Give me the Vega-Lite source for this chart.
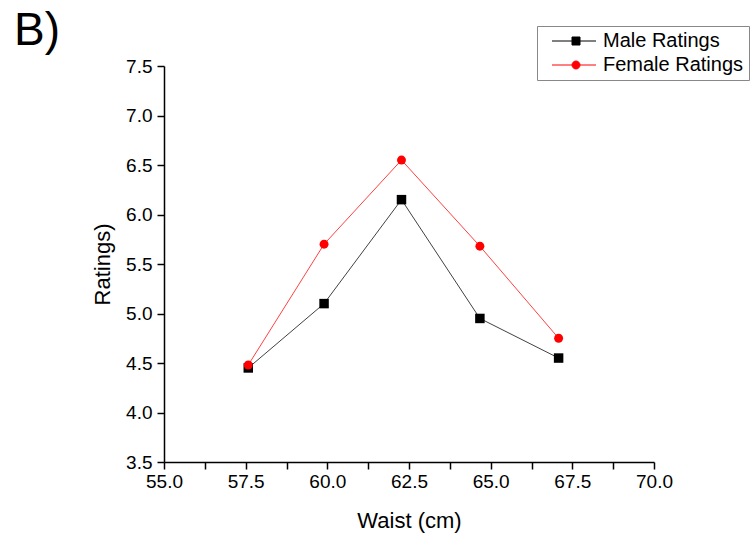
{
  "$schema": "https://vega.github.io/schema/vega-lite/v6.json",
  "width": 490,
  "height": 396,
  "autosize": {"type": "none"},
  "padding": {"left": 164, "top": 66, "right": 97, "bottom": 74},
  "background": "white",
  "title": {
    "text": "B)",
    "anchor": "start",
    "frame": "group",
    "font": "Liberation Sans",
    "fontSize": 46,
    "fontWeight": "normal",
    "color": "black",
    "dx": -150,
    "dy": 65,
    "offset": 0,
    "baseline": "alphabetic"
  },
  "config": {
    "view": {"stroke": null},
    "font": "Liberation Sans",
    "axis": {
      "domainColor": "black",
      "domainWidth": 1.5,
      "tickColor": "black",
      "tickWidth": 1.5,
      "grid": false,
      "labelFont": "Liberation Sans",
      "labelFontSize": 19,
      "labelColor": "black",
      "titleFont": "Liberation Sans",
      "titleFontSize": 22,
      "titleFontWeight": "normal",
      "titleColor": "black"
    }
  },
  "data": {
    "values": [
      {"waist": 57.58, "rating": 4.45, "series": "Male Ratings"},
      {"waist": 59.9, "rating": 5.1, "series": "Male Ratings"},
      {"waist": 62.27, "rating": 6.15, "series": "Male Ratings"},
      {"waist": 64.67, "rating": 4.95, "series": "Male Ratings"},
      {"waist": 67.08, "rating": 4.55, "series": "Male Ratings"},
      {"waist": 57.58, "rating": 4.48, "series": "Female Ratings"},
      {"waist": 59.9, "rating": 5.7, "series": "Female Ratings"},
      {"waist": 62.27, "rating": 6.55, "series": "Female Ratings"},
      {"waist": 64.67, "rating": 5.68, "series": "Female Ratings"},
      {"waist": 67.08, "rating": 4.75, "series": "Female Ratings"}
    ]
  },
  "encoding": {
    "x": {
      "field": "waist",
      "type": "quantitative",
      "scale": {"domain": [55, 70], "nice": false, "zero": false},
      "axis": {
        "title": "Waist (cm)",
        "values": [55, 56.25, 57.5, 58.75, 60, 61.25, 62.5, 63.75, 65, 66.25, 67.5, 68.75, 70],
        "labelExpr": "datum.value % 2.5 === 0 ? format(datum.value, '.1f') : ''",
        "labelOverlap": false,
        "labelFlush": false,
        "tickSize": 7,
        "labelPadding": 3,
        "titlePadding": 19,
        "encode": {
          "ticks": {"update": {"y2": {"signal": "datum.value % 2.5 === 0 ? 7 : 4"}}}
        }
      }
    },
    "y": {
      "field": "rating",
      "type": "quantitative",
      "scale": {"domain": [3.5, 7.5], "nice": false, "zero": false},
      "axis": {
        "title": "Ratings)",
        "values": [3.5, 4, 4.5, 5, 5.5, 6, 6.5, 7, 7.5],
        "format": ".1f",
        "labelOverlap": false,
        "labelFlush": false,
        "tickSize": 7,
        "labelPadding": 5,
        "titlePadding": 11
      }
    },
    "color": {
      "field": "series",
      "type": "nominal",
      "sort": ["Male Ratings", "Female Ratings"],
      "scale": {"domain": ["Male Ratings", "Female Ratings"], "range": ["black", "#ff0000"]}
    }
  },
  "layer": [
    {
      "mark": {"type": "line", "strokeWidth": 1, "opacity": 0.75},
      "encoding": {
        "color": {
          "field": "series",
          "type": "nominal",
          "sort": ["Male Ratings", "Female Ratings"],
          "scale": {"domain": ["Male Ratings", "Female Ratings"], "range": ["black", "#ff0000"]},
          "legend": {
            "title": null,
            "orient": "none",
            "legendX": 373,
            "legendY": -40,
            "strokeColor": "#888888",
            "fillColor": "white",
            "padding": 5,
            "symbolSize": 256,
            "symbolStrokeWidth": 1,
            "symbolOpacity": 1,
            "labelFont": "Liberation Sans",
            "labelFontSize": 20,
            "labelColor": "black",
            "labelOffset": 41,
            "rowPadding": 4,
            "encode": {
              "symbols": {
                "update": {
                  "shape": {"signal": "datum.value === 'Male Ratings' ? 'M0.0,0H5.5M2.5,-0.5H3.5V0.5H2.5Z' : 'M0.0,0H5.5M3.5,0A0.5,0.5,0,1,1,2.5,0A0.5,0.5,0,1,1,3.5,0Z'"},
                  "fill": {"signal": "datum.value === 'Male Ratings' ? 'black' : '#ff0000'"},
                  "stroke": {"signal": "datum.value === 'Male Ratings' ? 'black' : '#ff0000'"},
                  "fillOpacity": {"value": 1},
                  "strokeWidth": {"value": 1}
                }
              }
            }
          }
        }
      }
    },
    {
      "transform": [{"filter": "datum.series === 'Male Ratings'"}],
      "mark": {"type": "point", "filled": true, "opacity": 1, "shape": "square", "size": 90}
    },
    {
      "transform": [{"filter": "datum.series === 'Female Ratings'"}],
      "mark": {"type": "point", "filled": true, "opacity": 1, "shape": "circle", "size": 80}
    }
  ]
}
